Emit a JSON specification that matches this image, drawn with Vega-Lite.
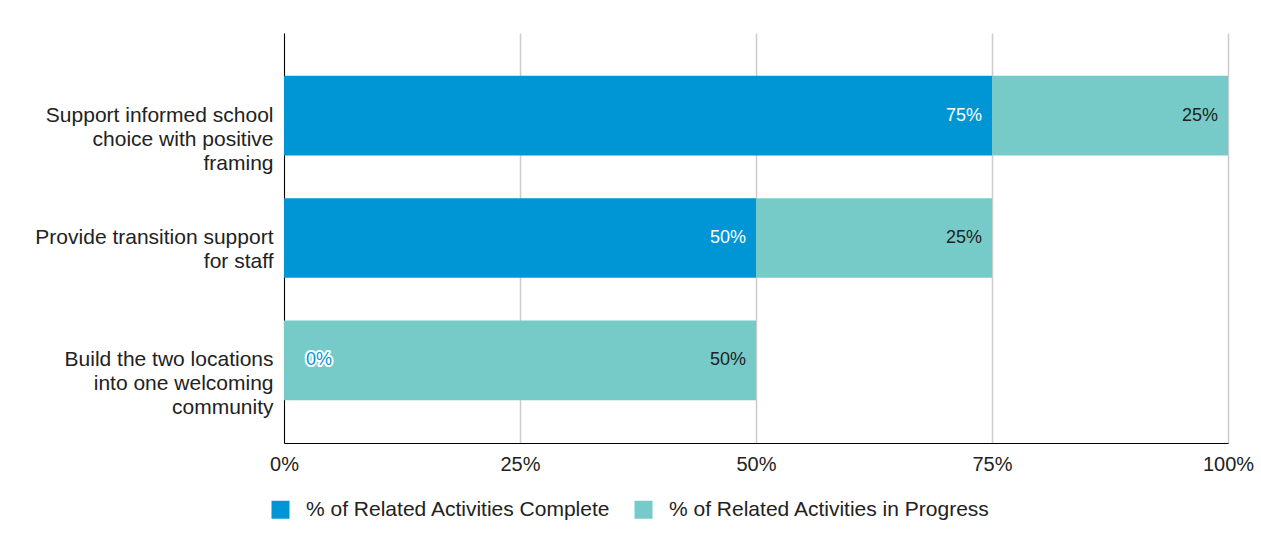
{
  "$schema": "https://vega.github.io/schema/vega-lite/v6.json",
  "width": 944,
  "height": 410,
  "autosize": "none",
  "padding": {"left": 284, "top": 33, "right": 33, "bottom": 106},
  "background": "white",
  "config": {
    "view": {"stroke": null},
    "font": "Liberation Sans",
    "axis": {"labelFont": "Liberation Sans", "labelColor": "#222222", "labelFontSize": 20, "title": null}
  },
  "data": {
    "values": [
      {"task": "Support informed school choice with positive framing", "series": "% of Related Activities Complete", "value": 0.75},
      {"task": "Support informed school choice with positive framing", "series": "% of Related Activities in Progress", "value": 0.25},
      {"task": "Provide transition support for staff", "series": "% of Related Activities Complete", "value": 0.5},
      {"task": "Provide transition support for staff", "series": "% of Related Activities in Progress", "value": 0.25},
      {"task": "Build the two locations into one welcoming community", "series": "% of Related Activities Complete", "value": 0.0},
      {"task": "Build the two locations into one welcoming community", "series": "% of Related Activities in Progress", "value": 0.5}
    ]
  },
  "transform": [
    {"stack": "value", "groupby": ["task"], "sort": [{"field": "series", "order": "ascending"}], "as": ["x0", "x1"]}
  ],
  "encoding": {
    "y": {
      "field": "task",
      "type": "nominal",
      "sort": ["Support informed school choice with positive framing", "Provide transition support for staff", "Build the two locations into one welcoming community"],
      "scale": {"paddingInner": 0.35, "paddingOuter": 0.35},
      "axis": {
        "domain": true,
        "domainColor": "#000000",
        "domainWidth": 1,
        "ticks": false,
        "labelFontSize": 21,
        "labelPadding": 11,
        "labelLineHeight": 24,
        "labelLimit": 300,
        "labelExpr": "datum.value == 'Support informed school choice with positive framing' ? ['Support informed school', 'choice with positive', 'framing'] : datum.value == 'Provide transition support for staff' ? ['Provide transition support', 'for staff'] : ['Build the two locations', 'into one welcoming', 'community']"
      }
    }
  },
  "layer": [
    {
      "mark": {"type": "bar"},
      "encoding": {
        "x": {
          "field": "x0",
          "type": "quantitative",
          "scale": {"domain": [0, 1], "nice": false},
          "axis": {
            "values": [0, 0.25, 0.5, 0.75, 1],
            "format": ".0%",
            "grid": true,
            "gridColor": "#cccccc",
            "gridWidth": 1.5,
            "domain": true,
            "domainColor": "#000000",
            "domainWidth": 1,
            "ticks": false,
            "labelFlush": false,
            "labelPadding": 11
          }
        },
        "x2": {"field": "x1"},
        "color": {
          "field": "series",
          "type": "nominal",
          "scale": {"domain": ["% of Related Activities Complete", "% of Related Activities in Progress"], "range": ["#0096d6", "#76cbc8"]},
          "legend": {
            "title": null,
            "orient": "none",
            "direction": "horizontal",
            "legendX": -14,
            "legendY": 466,
            "symbolType": "square",
            "symbolSize": 324,
            "symbolStrokeWidth": 0,
            "symbolOpacity": 1,
            "labelFontSize": 21,
            "labelFont": "Liberation Sans",
            "labelColor": "#222222",
            "labelOffset": 15,
            "columnPadding": 22,
            "labelLimit": 400
          }
        }
      }
    },
    {
      "transform": [{"filter": "datum.value > 0"}],
      "mark": {"type": "text", "align": "right", "baseline": "middle", "dx": -10, "fontSize": 18, "font": "Liberation Sans"},
      "encoding": {
        "x": {"field": "x1", "type": "quantitative"},
        "text": {"field": "value", "type": "quantitative", "format": ".0%"},
        "color": {
          "condition": {"test": "datum.series == '% of Related Activities Complete'", "value": "#ffffff"},
          "value": "#222222"
        }
      }
    },
    {
      "transform": [{"filter": "datum.value == 0"}],
      "mark": {"type": "text", "align": "left", "baseline": "middle", "dx": 22, "fontSize": 18, "font": "Liberation Sans", "fill": "#ffffff", "stroke": "#ffffff", "strokeWidth": 4, "strokeJoin": "round"},
      "encoding": {
        "x": {"field": "x1", "type": "quantitative"},
        "text": {"field": "value", "type": "quantitative", "format": ".0%"}
      }
    },
    {
      "transform": [{"filter": "datum.value == 0"}],
      "mark": {"type": "text", "align": "left", "baseline": "middle", "dx": 22, "fontSize": 18, "font": "Liberation Sans", "fill": "#0096d6"},
      "encoding": {
        "x": {"field": "x1", "type": "quantitative"},
        "text": {"field": "value", "type": "quantitative", "format": ".0%"}
      }
    }
  ]
}
